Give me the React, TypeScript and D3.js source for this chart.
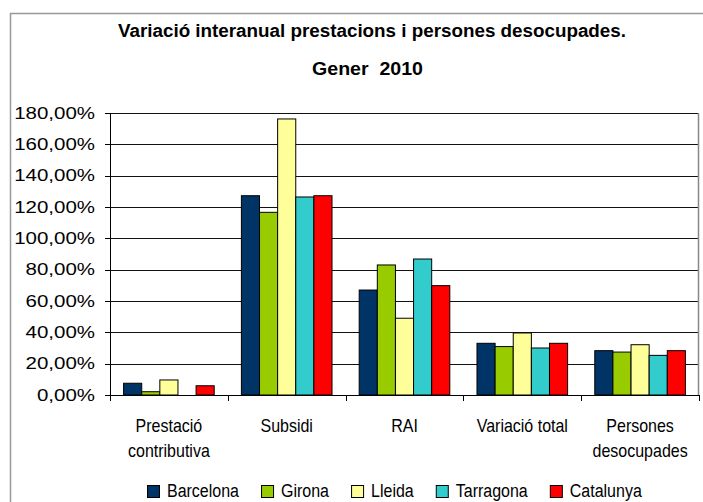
import React from 'react';
import * as d3 from 'd3';

const categories = [['Prestació', 'contributiva'], ['Subsidi'], ['RAI'], ['Variació total'], ['Persones', 'desocupades']];
const series = ['Barcelona', 'Girona', 'Lleida', 'Tarragona', 'Catalunya'];
const colors = ['#003366', '#99cc00', '#ffff99', '#33cccc', '#ff0000'];

// values in % per series, one per category
const barcelona = [7.5, 127.2, 67.0, 33.0, 28.3];
const girona = [2.1, 116.6, 83.0, 30.9, 27.4];
const lleida = [9.6, 176.2, 49.0, 39.6, 32.1];
const tarragona = [0, 126.4, 86.8, 30.0, 25.3];
const catalunya = [5.9, 127.2, 69.8, 33.0, 28.3];
const values = [barcelona, girona, lleida, tarragona, catalunya];

const yTicks = [0, 20, 40, 60, 80, 100, 120, 140, 160, 180];

const FONT = "'Liberation Sans', Arial, sans-serif";

function textWidth(txt: string, font: string) {
  const c = document.createElement('canvas').getContext('2d');
  if (!c) return txt.length * 8;
  c.font = font;
  return c.measureText(txt).width;
}

export default function App() {
  const W = 703;
  const H = 502;
  const plot = { left: 110, right: 699, top: 113, bottom: 395 };

  const x = d3.scaleBand<number>()
    .domain(categories.map((_, i) => i))
    .range([plot.left, plot.right]);
  const xs = d3.scaleBand<number>()
    .domain(series.map((_, i) => i))
    .range([0, x.bandwidth()])
    .paddingOuter(0.75);
  const y = d3.scaleLinear().domain([0, 180]).range([plot.bottom, plot.top]);

  const fmt = (v: number) => v.toFixed(2).replace('.', ',') + '%';

  // legend layout
  const legendFont = `16px ${FONT}`;
  let lx = 147;
  const legendItems = series.map((s, i) => {
    const item = { s, i, x: lx };
    lx += 13 + 7 + textWidth(s, legendFont) + 22;
    return item;
  });

  const boundaries = d3.range(categories.length + 1).map(i => plot.left + i * x.step());

  return (
    <svg width={W} height={H} style={{ position: 'absolute', left: 0, top: 0, background: '#fff' }} fontFamily={FONT}>
      <rect x={0} y={0} width={W} height={H} fill="#fff" />
      {/* chart frame */}
      <line x1={10} x2={W} y1={13.5} y2={13.5} stroke="#999" strokeWidth={1.5} />
      <line x1={10.5} x2={10.5} y1={13} y2={H} stroke="#999" strokeWidth={1.5} />

      {/* title */}
      <text transform="translate(372,37) scale(1,1.1)" textAnchor="middle" fontWeight="bold" fontSize={16} textLength={508} lengthAdjust="spacingAndGlyphs">
        Variació interanual prestacions i persones desocupades.
      </text>
      <text transform="translate(367.5,75) scale(1,1.1)" textAnchor="middle" fontWeight="bold" fontSize={16} textLength={111} lengthAdjust="spacingAndGlyphs" xmlSpace="preserve">
        Gener  2010
      </text>

      {/* gridlines */}
      {yTicks.filter(t => t > 0).map(t => (
        <line key={t} x1={plot.left} x2={plot.right} y1={Math.round(y(t)) + 0.5} y2={Math.round(y(t)) + 0.5} stroke="#111" />
      ))}
      <line x1={plot.right - 0.5} x2={plot.right - 0.5} y1={plot.top} y2={plot.bottom} stroke="#888" strokeWidth={1.5} />

      {/* bars */}
      {values.map((vals, si) => vals.map((v, ci) => (
        <rect
          key={`${si}-${ci}`}
          x={(x(ci) ?? 0) + (xs(si) ?? 0)}
          y={y(v)}
          width={xs.bandwidth()}
          height={plot.bottom - y(v)}
          fill={colors[si]}
          stroke="#000"
          strokeWidth={1}
        />
      )))}

      {/* axes */}
      <line x1={plot.left + 0.5} x2={plot.left + 0.5} y1={plot.top} y2={plot.bottom} stroke="#000" />
      <line x1={plot.left - 5} x2={plot.right} y1={plot.bottom + 0.5} y2={plot.bottom + 0.5} stroke="#000" />
      {yTicks.map(t => (
        <g key={t}>
          <line x1={plot.left - 5} x2={plot.left} y1={Math.round(y(t)) + 0.5} y2={Math.round(y(t)) + 0.5} stroke="#000" />
          <text transform={`translate(95,${y(t)}) scale(1.28,1)`} textAnchor="end" dy="0.36em" fontSize={16} fill="#000">
            {fmt(t)}
          </text>
        </g>
      ))}
      {boundaries.map((bx, i) => (
        <line key={i} x1={Math.round(bx) + 0.5} x2={Math.round(bx) + 0.5} y1={plot.bottom} y2={plot.bottom + 6} stroke="#000" />
      ))}
      {categories.map((lines, ci) => lines.map((ln, li) => (
        <text
          key={`${ci}-${li}`}
          transform={`translate(${(x(ci) ?? 0) + x.bandwidth() / 2},${432 + li * 25}) scale(1,1.2)`}
          textAnchor="middle"
          fontSize={16}
          fill="#000"
        >
          {ln}
        </text>
      )))}

      {/* legend */}
      {legendItems.map(it => (
        <g key={it.s}>
          <rect x={it.x + 0.5} y={485.5} width={12} height={12} fill={colors[it.i]} stroke="#000" />
          <text transform={`translate(${it.x + 20},497) scale(1,1.1)`} fontSize={16} fill="#000">{it.s}</text>
        </g>
      ))}
    </svg>
  );
}
